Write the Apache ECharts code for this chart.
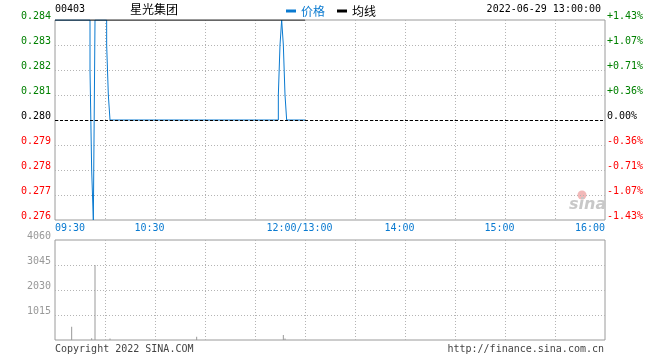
<!DOCTYPE html>
<html><head><meta charset="utf-8">
<script src="https://cdn.jsdelivr.net/npm/echarts@6/dist/echarts.min.js"></script>
<style>html,body{margin:0;padding:0;background:#fff}#c{width:660px;height:360px}</style>
</head><body><div id="c"></div>
<script>
// ---- data ----
const stockCode = '00403';
const stockName = '星光集团';
const stamp = '2022-06-29 13:00:00';
const prevClose = 0.280;
// minutes since 09:30 (12:00 and 13:00 share minute 150, 16:00 = 330)
const timeTickMinutes = [0, 60, 150, 210, 270, 330];
const timeTickLabels = ['09:30', '10:30', '12:00/13:00', '14:00', '15:00', '16:00'];
const priceTickLabels = ['0.276', '0.277', '0.278', '0.279', '0.280', '0.281', '0.282', '0.283', '0.284'];
const pctTickLabels = ['-1.43%', '-1.07%', '-0.71%', '-0.36%', '0.00%', '+0.36%', '+0.71%', '+1.07%', '+1.43%'];
const volTickLabels = ['', '1015', '2030', '3045', '4060'];
// price (change points, drawn as a step line)
const priceMinutes = [0, 21, 22, 23, 24, 31, 32, 33, 34, 134, 135, 136, 137, 138, 139, 140, 150];
const priceValues  = [0.284, 0.284, 0.282, 0.278, 0.276, 0.284, 0.283, 0.281, 0.280, 0.280, 0.281, 0.283, 0.284, 0.283, 0.281, 0.280, 0.280];
// average line (runs along the top edge)
const avgMinutes = [0, 150];
const avgValues  = [0.284, 0.284];
// volume
const volMinutes = [10, 22, 24, 33, 85, 137, 138];
const volValues  = [540, 70, 3040, 60, 135, 200, 60];

// ---- chart ----
const MONO = '"DejaVu Sans Mono", monospace';
const CJK = '"Noto Sans CJK SC", sans-serif';
const BLUE = '#0a7ad0';
const GREEN = '#008000';
const RED = '#ff0000';
const GRIDC = '#b4b4b4';
const FRAME = '#9a9a9a';

const priceData = priceMinutes.map((m, i) => [m, priceValues[i]]);
const avgData = avgMinutes.map((m, i) => [m, avgValues[i]]);
const volData = volMinutes.map((m, i) => [m, volValues[i]]);

function tickIndex(v, min, step) { return Math.round((v - min) / step); }
function priceColor(v) { return v > prevClose + 1e-6 ? GREEN : (v < prevClose - 1e-6 ? RED : '#000'); }

const dotted = { show: true, showMinLine: false, showMaxLine: false, lineStyle: { color: GRIDC, type: [1, 2], width: 1 } };

const chart = echarts.init(document.getElementById('c'));
chart.setOption({
  animation: false,
  backgroundColor: '#fff',
  textStyle: { fontFamily: MONO },
  legend: {
    left: 281, top: 0, icon: 'rect', itemWidth: 10, itemHeight: 3, itemGap: 12,
    textStyle: { fontFamily: CJK, fontSize: 12 },
    data: [{ name: '价格', textStyle: { color: BLUE } }, { name: '均线', textStyle: { color: '#000' } }]
  },
  grid: [
    { left: 55, top: 20, width: 550, height: 200, show: true, borderColor: FRAME, borderWidth: 1 },
    { left: 55, top: 240, width: 550, height: 100, show: true, borderColor: FRAME, borderWidth: 1 }
  ],
  xAxis: [
    {
      gridIndex: 0, type: 'value', min: 0, max: 330, interval: 30,
      axisLine: { show: false }, axisTick: { show: false }, splitLine: dotted,
      axisLabel: {
        show: true, showMinLabel: true, showMaxLabel: true, margin: 2,
        color: BLUE, fontFamily: MONO, fontSize: 10, lineHeight: 12,
        formatter: function (v) {
          const k = timeTickMinutes.indexOf(v);
          if (k < 0) return '';
          const t = timeTickLabels[k];
          if (k === 0) return '{l|' + t + '}';
          if (k === timeTickMinutes.length - 1) return '{r|' + t + '}';
          return '{m|' + t + '}';
        },
        rich: {
          l: { color: BLUE, fontFamily: MONO, fontSize: 10, padding: [0, 0, 0, 30] },
          r: { color: BLUE, fontFamily: MONO, fontSize: 10, padding: [0, 30, 0, 0] },
          m: { color: BLUE, fontFamily: MONO, fontSize: 10, padding: [0, 11, 0, 0] }
        }
      }
    },
    {
      gridIndex: 1, type: 'value', min: 0, max: 330, interval: 30,
      axisLine: { show: false }, axisTick: { show: false }, axisLabel: { show: false }, splitLine: dotted
    }
  ],
  yAxis: [
    {
      gridIndex: 0, type: 'value', min: 0.276, max: 0.284, interval: 0.001,
      axisLine: { show: false }, axisTick: { show: false }, splitLine: dotted,
      axisLabel: {
        margin: 4, fontFamily: MONO, fontSize: 10, lineHeight: 7, verticalAlign: 'bottom',
        showMinLabel: true, showMaxLabel: true,
        formatter: (v) => priceTickLabels[tickIndex(v, 0.276, 0.001)],
        color: (v) => priceColor(v)
      }
    },
    {
      gridIndex: 0, type: 'value', position: 'right', min: 0.276, max: 0.284, interval: 0.001,
      axisLine: { show: false }, axisTick: { show: false }, splitLine: { show: false },
      axisLabel: {
        margin: 2, fontFamily: MONO, fontSize: 10, lineHeight: 7, verticalAlign: 'bottom',
        showMinLabel: true, showMaxLabel: true,
        formatter: (v) => pctTickLabels[tickIndex(v, 0.276, 0.001)],
        color: (v) => priceColor(v)
      }
    },
    {
      gridIndex: 1, type: 'value', min: 0, max: 4060, interval: 1015,
      axisLine: { show: false }, axisTick: { show: false }, splitLine: dotted,
      axisLabel: {
        margin: 4, fontFamily: MONO, fontSize: 10, lineHeight: 7, verticalAlign: 'bottom', color: '#999',
        showMinLabel: true, showMaxLabel: true,
        formatter: (v) => volTickLabels[tickIndex(v, 0, 1015)]
      }
    }
  ],
  series: [
    {
      name: 'prev', type: 'line', xAxisIndex: 0, yAxisIndex: 0, data: [], z: 1, silent: true,
      markLine: {
        symbol: 'none', silent: true, animation: false, label: { show: false },
        lineStyle: { color: '#000', type: [3, 2], width: 1 },
        data: [{ yAxis: prevClose }]
      }
    },
    {
      name: '价格', type: 'line', xAxisIndex: 0, yAxisIndex: 0, data: priceData, step: 'start',
      symbol: 'none', color: BLUE, lineStyle: { color: BLUE, width: 1 }, z: 2
    },
    {
      name: '均线', type: 'line', xAxisIndex: 0, yAxisIndex: 0, data: avgData,
      symbol: 'none', color: '#000', lineStyle: { color: '#000', width: 1 }, z: 3
    },
    {
      name: 'vol', type: 'bar', xAxisIndex: 1, yAxisIndex: 2, data: volData, barWidth: 1,
      itemStyle: { color: '#999' }
    }
  ],
  graphic: [
    { type: 'text', left: 55, top: 4, style: { text: stockCode, font: '10px ' + MONO, fill: '#000' } },
    { type: 'text', left: 130, top: 3, style: { text: stockName, font: '12px ' + CJK, fill: '#000' } },
    { type: 'text', right: 59, top: 4, style: { text: stamp, font: '10px ' + MONO, fill: '#000' } },
    { type: 'text', left: 55, top: 344, style: { text: 'Copyright 2022 SINA.COM', font: '10px ' + MONO, fill: '#444' } },
    { type: 'text', right: 56, top: 344, style: { text: 'http://finance.sina.com.cn', font: '10px ' + MONO, fill: '#444' } },
    { type: 'circle', shape: { cx: 582, cy: 195, r: 4.5 }, style: { fill: '#f2b8b8' }, z: 0 },
    { type: 'text', left: 569, top: 197, z: 0, style: { text: 'sina', font: 'italic bold 16px "DejaVu Sans", sans-serif', fill: '#c8c8c8' } }
  ]
});
</script>
</body></html>
